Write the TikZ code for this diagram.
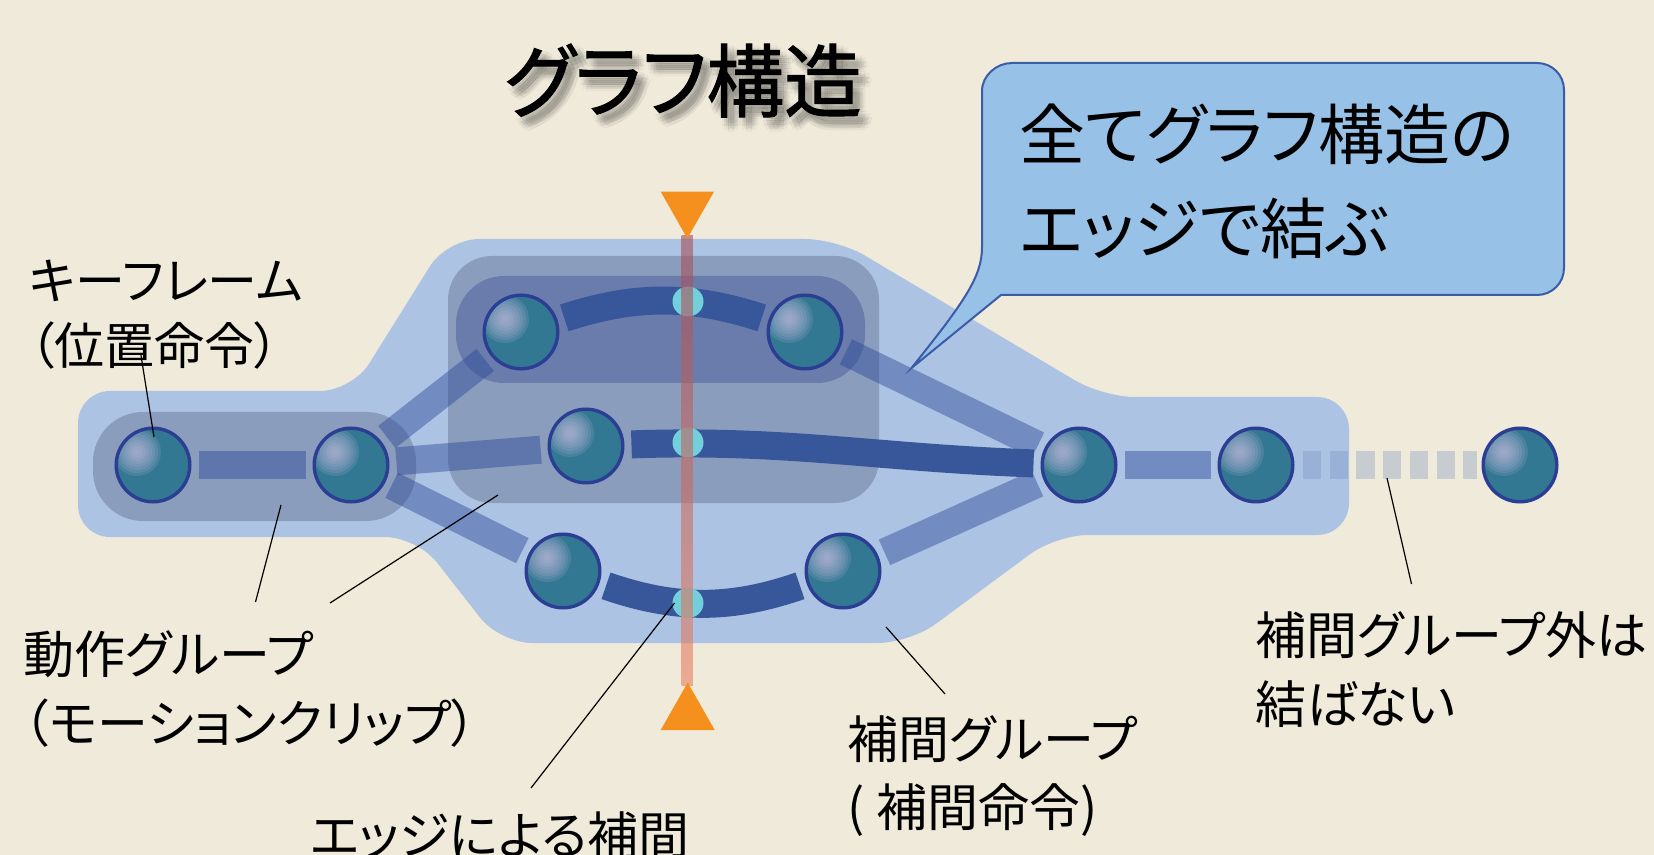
\documentclass[tikz,border=0pt]{standalone}
\usepackage{fontspec}
\newfontfamily\jp[RawFeature=+palt]{Noto Sans CJK JP}
\newfontfamily\jpt[RawFeature=+palt, FakeBold=1.3, FakeStretch=0.97]{Noto Sans CJK JP}
\usetikzlibrary{shapes.geometric}
\pgfdeclarelayer{back}
\pgfdeclarelayer{mid}
\pgfsetlayers{back,mid,main}
\definecolor{bgc}{RGB}{239,234,218}
\definecolor{outerc}{RGB}{173,195,227}
\definecolor{groupc}{RGB}{138,157,189}
\definecolor{innerc}{RGB}{106,124,172}
\definecolor{edgec}{RGB}{40,70,150}
\definecolor{darkc}{RGB}{56,87,155}
\definecolor{tealc}{RGB}{51,120,146}
\definecolor{lilacc}{RGB}{205,192,228}
\definecolor{ballb}{RGB}{44,62,148}
\definecolor{cyanc}{RGB}{114,207,220}
\definecolor{orangec}{RGB}{245,144,30}
\definecolor{redl}{RGB}{166,77,88}
\definecolor{orl}{RGB}{232,127,96}
\definecolor{callf}{RGB}{152,193,231}
\definecolor{callb}{RGB}{59,92,168}
\definecolor{dashc}{RGB}{115,141,192}
\definecolor{shadowc}{RGB}{50,50,50}
\begin{document}
\begin{tikzpicture}[x=0.5pt,y=-0.5pt,
  ball/.style={circle, minimum size=36.8pt, inner sep=0pt, draw=ballb, line width=1.7pt, fill=tealc,
    path picture={\foreach \r in {12,10.5,9,7.5,6,4.5,3,1.5} {\fill[lilacc, fill opacity=0.14, shift={(path picture bounding box.center)}] (-8pt,6.5pt) circle (\r pt);}}},
  lightedge/.style={draw=edgec, draw opacity=0.44, line width=14pt, shorten <=3.5pt, shorten >=3.5pt},
  darkedge/.style={draw=darkc, line width=14pt, shorten <=3.5pt, shorten >=3.5pt},
  dashedge/.style={draw=dashc, draw opacity=0.32, line width=14pt, dash pattern=on 9.15pt off 4.2pt, shorten <=4.25pt, shorten >=2.25pt},
  cross/.style={ellipse, fill=cyanc, minimum width=15.5pt, minimum height=15pt, inner sep=0pt},
  leader/.style={draw=black, line width=0.6pt},
  lbl/.style={anchor=base west, inner sep=0pt, text=black},
  callout/.style={fill=callf, draw=callb, line width=1pt},
  tri/.style={fill=orangec},
  titlefont/.style={font=\jpt\fontsize{40pt}{44pt}\selectfont},
]
\useasboundingbox (0,0) rectangle (1654,855);
\begin{pgfonlayer}{back}
  \fill[bgc] (0,0) rectangle (1654,855);
  % interpolation group region
  \fill[outerc, rounded corners=16pt] (78,391) -- (352,391) -- (447,239) -- (837,239) -- (1103,397) -- (1349,397) -- (1349,535) -- (1056,535) -- (910,643) -- (500,643) -- (417,537) -- (78,537) -- cycle;
  % motion groups
  \fill[groupc, rounded corners=25pt] (93,412) rectangle (416,521);
  \fill[groupc, rounded corners=22pt] (448,256) rectangle (879,503);
  \fill[innerc, rounded corners=24pt] (456,276) rectangle (865,383);
\end{pgfonlayer}

% keyframes
\node[ball] (n1) at (153,465) {};
\node[ball] (n2) at (351,465) {};
\node[ball] (n6) at (521,332) {};
\node[ball] (n7) at (805,332) {};
\node[ball] (n3) at (586,446) {};
\node[ball] (n4) at (563,571) {};
\node[ball] (n5) at (843,571) {};
\node[ball] (n8) at (1079,465) {};
\node[ball] (n9) at (1256,465) {};
\node[ball] (n10) at (1520,465) {};

\begin{pgfonlayer}{mid}
  \draw[lightedge] (n1) -- (n2);
  \draw[lightedge] (n2) -- (n3);
  \draw[lightedge] (n2) -- (n6);
  \draw[lightedge] (n2) -- (n4);
  \draw[lightedge] (n7) -- (n8);
  \draw[lightedge] (n5) -- (n8);
  \draw[lightedge] (n8) -- (n9);
  \draw[dashedge] (n9) -- (n10);
  \draw[darkedge] (n6) to[out=18,in=162] (n7);
  \draw[darkedge] (n3) to[out=2,in=178] (n8);
  \draw[darkedge] (n4) to[out=-19,in=-161] (n5);
\end{pgfonlayer}

% crossing points
\node[cross] (c1) at (688,301.5) {};
\node[cross] (c2) at (688,442.5) {};
\node[cross] (c3) at (688,603) {};

% time cursor
\shade[top color=redl, bottom color=orl, opacity=0.6] (681.7,236) rectangle (692.9,685);
\fill[tri] (660.7,191.7) -- (714,191.7) -- (687.3,238.5) -- cycle;
\fill[tri] (660.7,730) -- (714.7,730) -- (687.7,682.5) -- cycle;

% leader lines
\coordinate (l1a) at (140.6,353);  \coordinate (l1b) at (154,437);
\coordinate (l2a) at (281,505);    \coordinate (l2b) at (255.5,602);
\coordinate (l3a) at (498,495);    \coordinate (l3b) at (330,603);
\coordinate (l4a) at (674.5,603);  \coordinate (l4b) at (531,788);
\coordinate (l5a) at (886,627);    \coordinate (l5b) at (945,694);
\coordinate (l6a) at (1387,478);   \coordinate (l6b) at (1411.5,584);
\draw[leader] (l1a) -- (l1b);
\draw[leader] (l2a) -- (l2b);
\draw[leader] (l3a) -- (l3b);
\draw[leader] (l4a) -- (l4b);
\draw[leader] (l5a) -- (l5b);
\draw[leader] (l6a) -- (l6b);

% callout
\draw[callout] (982,247) -- (982,91) .. controls (982,75.5) and (996.5,63) .. (1012,63) -- (1537,63) .. controls (1552,63) and (1564,75) .. (1564,90) -- (1564,268) .. controls (1564,283) and (1552,295) .. (1537,295) -- (1001,295) -- (911.5,368) .. controls (966,300) and (982,276) .. (982,247) -- cycle;
\node[lbl, font=\jp\fontsize{33pt}{46.75pt}\selectfont] (calltext) at (1019,160) {\begin{tabular}[t]{@{}l@{}}全てグラフ構造の\\エッジで結ぶ\end{tabular}};

% title with soft shadow
\foreach \dx/\dy [count=\k] in {0/0,3/0,-3/0,0/3,0/-3,2/2,-2/-2,2/-2,-2/2,6/0,-6/0,0/6,0/-6,4/4,-4/-4,4/-4,-4/4} {
  \node[lbl, titlefont, text=shadowc, text opacity=0.03] (tsh\k) at (511+\dx,119+\dy) {グラフ構造};
}
\node[lbl, titlefont] (title) at (504,111) {グラフ構造};

% labels
\node[lbl, font=\jp\fontsize{25pt}{32.5pt}\selectfont] (kf) at (29,300) {\begin{tabular}[t]{@{}l@{}}キーフレーム\\（位置命令）\end{tabular}};
\node[lbl, font=\jp\fontsize{25.5pt}{34.5pt}\selectfont] (mg) at (23,673) {\begin{tabular}[t]{@{}l@{}}動作グループ\\（モーションクリップ）\end{tabular}};
\node[lbl, font=\jp\fontsize{25.5pt}{34.5pt}\selectfont] (ei) at (310,854) {エッジによる補間};
\node[lbl, font=\jp\fontsize{25.5pt}{34pt}\selectfont] (ig) at (847,758) {\begin{tabular}[t]{@{}l@{}}補間グループ\\( 補間命令)\end{tabular}};
\node[lbl, font=\jp\fontsize{25.5pt}{34.5pt}\selectfont] (og) at (1255,654) {\begin{tabular}[t]{@{}l@{}}補間グループ外は\\結ばない\end{tabular}};
\end{tikzpicture}
\end{document}
